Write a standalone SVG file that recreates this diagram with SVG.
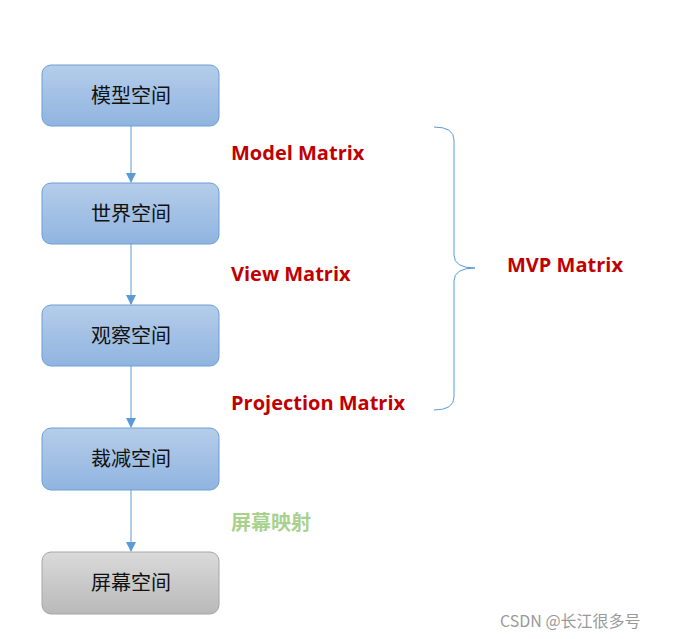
<svg xmlns="http://www.w3.org/2000/svg" width="685" height="639" viewBox="0 0 685 639">
<defs>
<linearGradient id="gb" x1="0" y1="0" x2="0" y2="1"><stop offset="0" stop-color="#b5cdea"/><stop offset="1" stop-color="#90b4e0"/></linearGradient>
<linearGradient id="gg" x1="0" y1="0" x2="0" y2="1"><stop offset="0" stop-color="#dadada"/><stop offset="1" stop-color="#b9b9b9"/></linearGradient>
<marker id="ah" markerWidth="10" markerHeight="10" refX="9" refY="5" orient="auto" markerUnits="userSpaceOnUse"><path d="M0,0 L10,5 L0,10 z" fill="#5b9bd5"/></marker>
<style>
.b{fill:url(#gb);stroke:#6a9fd6;stroke-width:1}
.g{fill:url(#gg);stroke:#a6a6a6;stroke-width:1}
.t{font-family:"Noto Sans CJK SC",sans-serif;font-size:20px;fill:#111;text-anchor:middle}
.m{font-family:"Open Sans","Noto Sans",sans-serif;font-weight:bold;font-size:20px;fill:#c00000}
.c{stroke:#5b9bd5;stroke-width:1;fill:none}
</style>
</defs>
<g id="connectors">
<line class="c" x1="131" y1="126" x2="131" y2="182" marker-end="url(#ah)"/>
<line class="c" x1="131" y1="244" x2="131" y2="304" marker-end="url(#ah)"/>
<line class="c" x1="131" y1="366" x2="131" y2="427" marker-end="url(#ah)"/>
<line class="c" x1="131" y1="490" x2="131" y2="551" marker-end="url(#ah)"/>
</g>
<g id="n1"><rect class="b" x="42" y="65" width="177" height="61" rx="9"/><text class="t" x="131" y="103">模型空间</text></g>
<g id="n2"><rect class="b" x="42" y="183" width="177" height="61" rx="9"/><text class="t" x="131" y="221">世界空间</text></g>
<g id="n3"><rect class="b" x="42" y="305" width="177" height="61" rx="9"/><text class="t" x="131" y="343">观察空间</text></g>
<g id="n4"><rect class="b" x="42" y="428" width="177" height="62" rx="9"/><text class="t" x="131" y="466">裁减空间</text></g>
<g id="n5"><rect class="g" x="42" y="552" width="177" height="62" rx="9"/><text class="t" x="131" y="590">屏幕空间</text></g>
<g id="labels">
<text class="m" x="231" y="160">Model Matrix</text>
<text class="m" x="231" y="281">View Matrix</text>
<text class="m" x="231" y="410">Projection Matrix</text>
<text class="m" x="507" y="272">MVP Matrix</text>
<text x="231" y="530" style="font-family:'Noto Sans CJK SC',sans-serif;font-weight:bold;font-size:20px;fill:#a9d18e">屏幕映射</text>
<text x="500" y="627" style="font-family:'Noto Sans CJK SC',sans-serif;font-size:16px;fill:#999">CSDN @长江很多号</text>
</g>
<g id="brace"><path d="M434,127 Q454,127 454,140 L454,255 Q454,268 475,268 Q454,268 454,281 L454,397 Q454,410 434,410" fill="none" stroke="#5b9bd5" stroke-width="1"/></g>
</svg>
